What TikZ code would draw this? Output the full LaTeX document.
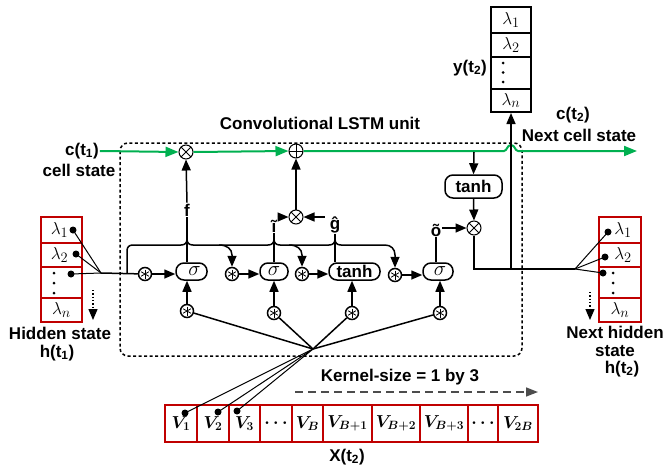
\documentclass[tikz,border=0pt]{standalone}
\usepackage{amsmath}
\usepackage{fontspec}
\setsansfont{Liberation Sans}
\usetikzlibrary{arrows.meta}
\definecolor{cgreen}{RGB}{0,176,80}
\definecolor{cred}{RGB}{192,0,0}
\newcommand{\lblfont}{\fontsize{17}{19}\selectfont\sffamily\bfseries}
\begin{document}
\begin{tikzpicture}[x=1pt,y=-1pt,
  lbl/.style={font=\lblfont, inner sep=1pt, align=center},
  lw/.style={line width=1.5pt},
  thinl/.style={line width=1pt},
  arr/.style={-{Triangle[length=11pt,width=9pt]}},
  garr/.style={-{Triangle[length=13pt,width=10pt]}},
  gate/.style={draw, line width=1.5pt, rounded corners=8pt, minimum height=17pt, inner sep=0pt, font=\fontsize{20}{20}\selectfont},
  conv/.style={circle, draw, line width=1.5pt, minimum size=13pt, inner sep=0pt, fill=white,
    path picture={\foreach \a in {90,30,150}{\draw[line width=0.8pt] ([shift={(\a:4.5pt)}]path picture bounding box.center) -- ([shift={(\a+180:4.5pt)}]path picture bounding box.center);}}},
  mult/.style={circle, draw, line width=1pt, minimum size=14pt, inner sep=0pt, fill=white,
    path picture={\draw[line width=1pt] (path picture bounding box.north west) -- (path picture bounding box.south east) (path picture bounding box.north east) -- (path picture bounding box.south west);}},
  plusn/.style={circle, draw, line width=1pt, minimum size=14pt, inner sep=0pt, fill=white,
    path picture={\draw[line width=1pt] (path picture bounding box.north) -- (path picture bounding box.south) (path picture bounding box.east) -- (path picture bounding box.west);}},
  hcell/.style={draw=cred, line width=2pt, inner sep=0pt, font=\fontsize{19}{19}\selectfont},
  ycell/.style={draw, line width=2pt, inner sep=0pt, minimum width=40pt, font=\fontsize{19}{19}\selectfont},
  vcell/.style={draw=cred, line width=2pt, inner sep=0pt, minimum height=37pt, font=\fontsize{17}{17}\selectfont},
  dot/.style={circle, fill, inner sep=0pt, minimum size=7pt}
]
\useasboundingbox (0,0) rectangle (664,466);

% dashed unit frame
\draw[line width=1.5pt, dash pattern=on 3pt off 2.5pt, rounded corners=8pt] (120,143) rectangle (522,356);
\node[lbl] (title) at (320,123) {Convolutional LSTM unit};

% cell state line
\node[lbl] (c1) at (82,151) {c(t\textsubscript{1})};
\node[lbl] (c1b) at (79,170) {cell state};
\node[mult] (xf) at (186,152) {};
\node[plusn] (plus) at (296,151) {};
\coordinate (cend) at (637,151);
\draw[cgreen, line width=2pt, garr] (c1.east) -- (xf.west);
\draw[cgreen, line width=2pt, garr] (xf.east) -- (plus.west);
\draw[cgreen, line width=2pt, garr] (plus.east) -- (504,151) .. controls (507,151) and (507,145) .. (511,145) .. controls (515,145) and (515,151) .. (518,151) -- (cend);
\node[lbl] (c2) at (573,115) {c(t\textsubscript{2})};
\node[lbl] (c2b) at (579,135) {Next cell state};

% gates
\node[gate, minimum width=31pt] (sig1) at (191.5,271.5) {\hspace*{6pt}$\sigma$};
\node[gate, minimum width=28pt] (sig2) at (274,271.5) {$\sigma$};
\node[gate, minimum width=51pt] (tanh1) at (354.5,271.5) {\lblfont tanh};
\node[gate, minimum width=30pt] (sig3) at (438,271.5) {\hspace*{4pt}$\sigma$};

\node[conv] (s1) at (145,274) {};
\node[conv] (s2) at (232,274) {};
\node[conv] (s3) at (302,274) {};
\node[conv] (s4) at (395,275) {};
\node[conv] (sb1) at (187,311) {};
\node[conv] (sb2) at (274,313) {};
\node[conv] (sb3) at (352,313) {};
\node[conv] (sb4) at (440,313) {};

\draw[lw,arr] (s1) -- (s1 -| sig1.west);
\draw[lw,arr] (s2) -- (s2 -| sig2.west);
\draw[lw,arr] (s3) -- (s3 -| tanh1.west);
\draw[lw,arr] (s4) -- (s4 -| sig3.west);
\draw[lw,arr] (sb1) -- (sb1 |- sig1.south);
\draw[lw,arr] (sb2) -- (sb2 |- sig2.south);
\draw[lw,arr] (sb3) -- (sb3 |- tanh1.south);
\draw[lw,arr] (sb4) -- (sb4 |- sig3.south);

% brace feeding hidden state
\draw[lw,arr] (127,273) -- (127,251) .. controls (127,247) and (129,245) .. (133,245)
 -- (181,245) .. controls (185,245) and (187,243) .. (187,239) .. controls (187,243) and (189,245) .. (193,245)
 -- (268,245) .. controls (272,245) and (274,243) .. (274,239) .. controls (274,243) and (276,245) .. (280,245)
 -- (329,245) .. controls (333,245) and (335,243) .. (335,239) .. controls (335,243) and (337,245) .. (341,245)
 -- (385,245) .. controls (391,245) and (395,249) .. (395,255) -- (s4.north);
\draw[lw,arr] (219,245) .. controls (227,245) and (232,249) .. (232,255) -- (s2.north);
\draw[lw,arr] (289,245) .. controls (297,245) and (302,249) .. (302,255) -- (s3.north);

% gate outputs
\node[lbl] (f) at (187,210) {f};
\node[lbl] (ii) at (274,226) {ĩ};
\node[lbl] (gg) at (335,225) {ĝ};
\node[lbl] (oo) at (436,230) {õ};
\node[mult] (xi) at (296,217) {};
\node[mult] (xo) at (474,228) {};
\node[gate, minimum width=57pt, minimum height=23pt] (tanh2) at (473.5,186.5) {\lblfont tanh};

\draw[lw] (f.south) -- (f.south |- sig1.north);
\draw[lw,arr] (f.north) -- (xf.south);
\draw[lw] (ii.south) -- (ii.south |- sig2.north);
\draw[lw,arr] (ii.east |- xi) -- (xi.west);
\draw[lw] (gg.south) -- (gg.south |- tanh1.north);
\draw[lw,arr] ([xshift=-4pt]gg.west |- xi) -- (xi.east);
\draw[lw,arr] (xi) -- (plus);
\draw[lw] (oo.south) -- (oo.south |- sig3.north);
\draw[lw,arr] (oo.east |- xo) -- (xo.west);
\coordinate (gt) at (474,152);
\draw[lw,arr] (gt) -- (tanh2.north);
\draw[lw,arr] (tanh2.south) -- (xo.north);

% output vector y(t2)
\node[ycell, minimum height=26pt] (y1) at (511,20) {$\lambda_1$};
\node[ycell, minimum height=24pt] (y2) at (511,45) {$\lambda_2$};
\node[ycell, minimum height=32pt] (y3) at (511,73) {};
\node[ycell, minimum height=23pt] (y4) at (511,100.5) {$\lambda_n$};
\foreach \yy in {63,72.5,82} \fill (503,\yy) circle (1.5pt);
\node[lbl] (ylab) at (470,68) {y(t\textsubscript{2})};

\coordinate (hc) at (575,269);
\coordinate (yj) at (511,269);
\draw[lw] (xo.south) |- (hc);
\draw[lw,arr] (yj) -- (y4.south);

% left hidden state vector
\node[hcell, minimum width=41pt, minimum height=26pt] (l1) at (61.5,230) {\hspace*{-4pt}$\lambda_1$};
\node[hcell, minimum width=41pt, minimum height=24pt] (l2) at (61.5,255) {\hspace*{-4pt}$\lambda_2$};
\node[hcell, minimum width=41pt, minimum height=31pt] (l3) at (61.5,282.5) {};
\node[hcell, minimum width=41pt, minimum height=24pt] (l4) at (61.5,310) {$\lambda_n$};
\foreach \yy in {273,283,293} \fill (54,\yy) circle (1.5pt);
\node[dot] (ld1) at (73,230) {};
\node[dot] (ld2) at (76,254) {};
\node[dot] (ld3) at (71,274) {};
\coordinate (hl) at (101,273);
\foreach \n in {ld1,ld2,ld3} \draw[thinl] (\n.center) -- (hl);
\draw[lw] (hl) -- (s1);
\coordinate (la1) at (93,290);
\coordinate (la2) at (93,320);
\draw[line width=1.3pt, dotted, -{Triangle[length=11pt,width=9pt]}] (la1) -- (la2);
\node[lbl] (hs) at (60,333) {Hidden state};
\node[lbl] (h1) at (57,353) {h(t\textsubscript{1})};

% right hidden state vector
\node[hcell, minimum width=42pt, minimum height=26pt] (r1) at (620,230) {\hspace*{6pt}$\lambda_1$};
\node[hcell, minimum width=42pt, minimum height=24pt] (r2) at (620,255) {\hspace*{6pt}$\lambda_2$};
\node[hcell, minimum width=42pt, minimum height=31pt] (r3) at (620,282.5) {};
\node[hcell, minimum width=42pt, minimum height=24pt] (r4) at (620,310) {$\lambda_n$};
\foreach \yy in {273,283,293} \fill (613,\yy) circle (1.5pt);
\node[dot] (rd1) at (608,232) {};
\node[dot] (rd2) at (605,257) {};
\node[dot] (rd3) at (603,273) {};
\foreach \n in {rd1,rd2,rd3} \draw[thinl] (hc) -- (\n.center);
\coordinate (ra1) at (590,292);
\coordinate (ra2) at (590,320);
\draw[line width=1.3pt, dotted, -{Triangle[length=11pt,width=9pt]}] (ra1) -- (ra2);
\node[lbl] (nh) at (615,332) {Next hidden};
\node[lbl, inner sep=0pt] (ns) at (615,351) {state};
\node[lbl, inner sep=0pt] (h2) at (622,369) {h(t\textsubscript{2})};

% input vector
\foreach \a/\b/\t [count=\i] in {165/197/{V_1}, 197/229/{V_2}, 229/260/{V_3}, 260/292/{\ldots}, 292/323/{V_B}, 323/372/{V_{B+1}}, 372/420/{V_{B+2}}, 420/468/{V_{B+3}}, 468/498/{\ldots}, 498/538/{V_{2B}}}
  \node[vcell, minimum width={\b-\a}] (v\i) at ({(\a+\b)/2},423.5) {$\boldsymbol{\t}$};
\node[dot] (d1) at (185,413) {};
\node[dot] (d2) at (218,412) {};
\node[dot] (d3) at (237,411) {};
\coordinate (K) at (313,349);
\foreach \n in {sb1,sb2,sb3,sb4} \draw[lw] (K) -- (\n);
\foreach \n in {d1,d2,d3} \draw[thinl] (K) -- (\n.center);
\node[lbl] (ks) at (400,377) {Kernel-size = 1 by 3};
\coordinate (ka1) at (295,392);
\coordinate (ka2) at (538,392);
\draw[line width=1.5pt, black!70, dash pattern=on 8pt off 5pt, -{Triangle[length=12pt,width=9pt]}] (ka1) -- (ka2);
\node[lbl] (xl) at (347,457) {X(t\textsubscript{2})};
\end{tikzpicture}
\end{document}
